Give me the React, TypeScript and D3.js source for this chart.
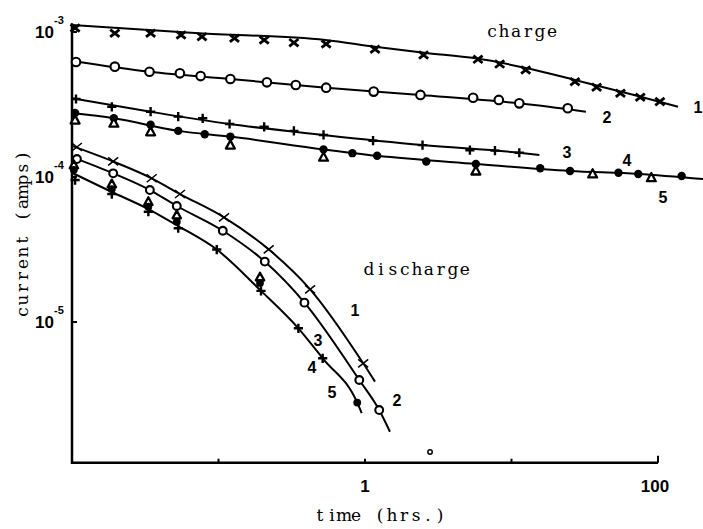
import React from 'react';
import * as d3 from 'd3';

const W = 703;
const H = 529;

// ---------- charge curves (time in hrs, current in amps) ----------
const chargeTime1 = [0.0105, 0.0196, 0.0344, 0.0555, 0.0771, 0.1285, 0.205, 0.327, 0.543, 1.17, 2.51, 5.9, 8.3, 12.5, 27.1, 38.1, 55.4, 75.6, 103];
const chargeCurrent1 = [1.066e-3, 0.98e-3, 0.98e-3, 0.953e-3, 0.928e-3, 0.905e-3, 0.881e-3, 0.844e-3, 0.826e-3, 0.76e-3, 0.694e-3, 0.648e-3, 0.601e-3, 0.547e-3, 0.454e-3, 0.416e-3, 0.378e-3, 0.355e-3, 0.331e-3];
const chargeFitTime1 = [0.01, 0.0734, 0.537, 1.17, 2.53, 5.72, 12.8, 27.1, 68.6, 137];
const chargeFitCurrent1 = [1.117e-3, 0.98e-3, 0.881e-3, 0.792e-3, 0.72e-3, 0.659e-3, 0.562e-3, 0.467e-3, 0.368e-3, 0.305e-3];

const chargeTime2 = [0.01065, 0.0196, 0.0338, 0.0545, 0.0755, 0.1205, 0.214, 0.337, 0.543, 1.146, 2.39, 5.47, 8.19, 11.3, 24.2];
const chargeCurrent2 = [0.621e-3, 0.577e-3, 0.532e-3, 0.519e-3, 0.497e-3, 0.474e-3, 0.45e-3, 0.431e-3, 0.413e-3, 0.388e-3, 0.368e-3, 0.352e-3, 0.34e-3, 0.322e-3, 0.298e-3];
const chargeFitTime2 = [0.01, 0.0338, 0.1205, 0.543, 2.39, 11.3, 32.2];
const chargeFitCurrent2 = [0.631e-3, 0.532e-3, 0.474e-3, 0.413e-3, 0.368e-3, 0.322e-3, 0.282e-3];

const chargeTime3 = [0.01065, 0.0187, 0.0344, 0.0531, 0.078, 0.119, 0.205, 0.327, 0.521, 1.135, 2.47, 5.2, 7.71, 11.3];
const chargeCurrent3 = [0.345e-3, 0.305e-3, 0.282e-3, 0.261e-3, 0.254e-3, 0.232e-3, 0.222e-3, 0.208e-3, 0.195e-3, 0.178e-3, 0.166e-3, 0.153e-3, 0.152e-3, 0.147e-3];
const chargeFitTime3 = [0.01, 0.0344, 0.119, 0.521, 2.47, 11.3, 15.5];
const chargeFitCurrent3 = [0.349e-3, 0.282e-3, 0.232e-3, 0.195e-3, 0.166e-3, 0.147e-3, 0.142e-3];

const chargeTime4 = [0.0105, 0.0193, 0.0344, 0.0531, 0.0805, 0.1205, 0.521, 0.82, 1.21, 2.62, 5.71, 15.7, 25.1, 53.7, 73.3, 145];
const chargeCurrent4 = [0.276e-3, 0.254e-3, 0.229e-3, 0.208e-3, 0.197e-3, 0.19e-3, 0.155e-3, 0.146e-3, 0.14e-3, 0.128e-3, 0.123e-3, 0.115e-3, 0.11e-3, 0.107e-3, 0.105e-3, 0.1016e-3];
const chargeTime5 = [0.0105, 0.0193, 0.0344, 0.1205, 0.521, 5.71, 35.8, 90];
const chargeCurrent5 = [0.247e-3, 0.235e-3, 0.205e-3, 0.166e-3, 0.137e-3, 0.11e-3, 0.105e-3, 0.0989e-3];
const chargeFitTime45 = [0.01, 0.0193, 0.0531, 0.1205, 0.521, 1.21, 5.71, 25.1, 73.3, 203];
const chargeFitCurrent45 = [0.276e-3, 0.254e-3, 0.208e-3, 0.19e-3, 0.155e-3, 0.14e-3, 0.123e-3, 0.11e-3, 0.105e-3, 0.0968e-3];

// ---------- discharge curves ----------
const dischargeTime1 = [0.0108, 0.0191, 0.035, 0.0546, 0.109, 0.22, 0.422, 0.972];
const dischargeCurrent1 = [1.61e-4, 1.28e-4, 9.8e-5, 7.63e-5, 5.27e-5, 3.17e-5, 1.68e-5, 5.19e-6];
const dischargeFitTime1 = [0.01, 0.0191, 0.035, 0.0546, 0.109, 0.22, 0.422, 0.972, 1.17];
const dischargeFitCurrent1 = [1.64e-4, 1.28e-4, 9.8e-5, 7.63e-5, 5.27e-5, 3.17e-5, 1.68e-5, 5.19e-6, 3.88e-6];

const dischargeTime2 = [0.0108, 0.0191, 0.034, 0.0519, 0.107, 0.207, 0.386, 0.914, 1.25];
const dischargeCurrent2 = [1.33e-4, 1.06e-4, 8.13e-5, 6.31e-5, 4.26e-5, 2.61e-5, 1.36e-5, 3.98e-6, 2.47e-6];
const dischargeFitTime2 = [0.01, 0.0191, 0.034, 0.0519, 0.107, 0.207, 0.386, 0.914, 1.25, 1.48];
const dischargeFitCurrent2 = [1.37e-4, 1.06e-4, 8.13e-5, 6.31e-5, 4.26e-5, 2.61e-5, 1.36e-5, 3.98e-6, 2.47e-6, 1.75e-6];

const dischargeTime3 = [0.0105, 0.0187, 0.0332, 0.0531, 0.0973, 0.195, 0.351, 0.514];
const dischargeCurrent3 = [9.53e-5, 7.63e-5, 5.76e-5, 4.43e-5, 3.16e-5, 1.64e-5, 9.05e-6, 5.62e-6];
const dischargeTime4 = [0.0103, 0.0187, 0.0332, 0.0519, 0.192, 0.885];
const dischargeCurrent4 = [1.12e-4, 8.26e-5, 6.24e-5, 4.92e-5, 1.86e-5, 2.78e-6];
const dischargeTime5 = [0.0103, 0.0187, 0.0332, 0.0519, 0.192];
const dischargeCurrent5 = [1.21e-4, 8.95e-5, 6.76e-5, 5.47e-5, 2.04e-5];
const dischargeFitTime345 = [0.01, 0.0187, 0.0332, 0.0531, 0.0973, 0.195, 0.351, 0.514, 0.885, 0.95];
const dischargeFitCurrent345 = [1.07e-4, 7.88e-5, 6.01e-5, 4.59e-5, 3.16e-5, 1.64e-5, 9.05e-6, 5.62e-6, 2.78e-6, 2.35e-6];

const strayTime = [2.78];
const strayCurrent = [1.27e-6];

// ---------- axes ----------
const xTickValues = [0.1, 1, 10, 100];
const xTickLabels = ['', '1', '', '100'];
const yTickValues = [1e-3, 1e-4, 1e-5];
const yTickExponents = ['-3', '-4', '-5'];
const xAxisExtent = [0.01, 100];
const yAxisExtent = [1.07e-6, 1.15e-3];

const chargeLabels = ['1', '2', '3', '4', '5'];
const chargeLabelTime = [197, 44.9, 23.9, 61.4, 108];
const chargeLabelCurrent = [3.04e-4, 2.59e-4, 1.49e-4, 1.31e-4, 7.28e-5];
const dischargeLabels = ['1', '2', '3', '4', '5'];
const dischargeLabelTime = [0.855, 1.65, 0.477, 0.435, 0.595];
const dischargeLabelCurrent = [1.21e-5, 2.9e-6, 7.51e-6, 4.9e-6, 3.29e-6];

const x = d3.scaleLog().domain([0.01, 100]).range([72, 658]);
const y = d3.scaleLog().domain([1e-3, 1e-5]).range([32, 322]);

const zip = (t: number[], c: number[]) => t.map((v, i) => [v, c[i]] as [number, number]);
const line = d3
  .line<[number, number]>()
  .x((d) => x(d[0]))
  .y((d) => y(d[1]))
  .curve(d3.curveMonotoneX);

const TYPE = "'DejaVu Serif', 'Liberation Serif', serif";
const NUM = "'Liberation Sans Narrow', 'Liberation Sans', Arial, sans-serif";

type Kind = 'x' | 'xthin' | 'o' | 'plus' | 'dot' | 'tri';

function Marker({ kind, cx, cy, s }: { kind: Kind; cx: number; cy: number; s: number }) {
  if (kind === 'x' || kind === 'xthin') {
    return (
      <path
        d={`M${cx - s},${cy - s * 0.8}L${cx + s},${cy + s * 0.8}M${cx - s},${cy + s * 0.8}L${cx + s},${cy - s * 0.8}`}
        stroke="#000"
        strokeWidth={kind === 'x' ? 2.8 : 1.5}
        fill="none"
      />
    );
  }
  if (kind === 'plus') {
    return (
      <path d={`M${cx - s},${cy}L${cx + s},${cy}M${cx},${cy - s}L${cx},${cy + s}`} stroke="#000" strokeWidth={2.4} fill="none" />
    );
  }
  if (kind === 'o') {
    return <circle cx={cx} cy={cy} r={s} fill="#fff" stroke="#000" strokeWidth={2.1} />;
  }
  if (kind === 'dot') {
    return <circle cx={cx} cy={cy} r={s} fill="#000" />;
  }
  return (
    <path
      d={`M${cx},${cy - s}L${cx + s * 0.95},${cy + s * 0.75}L${cx - s * 0.95},${cy + s * 0.75}Z`}
      fill="#fff"
      stroke="#000"
      strokeWidth={2.3}
      strokeLinejoin="round"
    />
  );
}

function Series({ t, c, kind, s }: { t: number[]; c: number[]; kind: Kind; s: number }) {
  return (
    <g>
      {zip(t, c).map((d, i) => (
        <Marker key={i} kind={kind} cx={x(d[0])} cy={y(d[1])} s={s} />
      ))}
    </g>
  );
}

// typewriter-style text: each character in a fixed 12px cell
function TypeText({ text, cx, cy, transform }: { text: string; cx: number; cy: number; transform?: string }) {
  const adv = 12;
  const start = cx - (text.length * adv) / 2;
  return (
    <g transform={transform}>
      {text.split('').map((ch, i) => (
        <text key={i} x={start + adv * (i + 0.5)} y={cy + 5} textAnchor="middle" fontFamily={TYPE} fontSize={17}>
          {ch}
        </text>
      ))}
    </g>
  );
}

export default function App() {
  const fits: [number[], number[]][] = [
    [chargeFitTime1, chargeFitCurrent1],
    [chargeFitTime2, chargeFitCurrent2],
    [chargeFitTime3, chargeFitCurrent3],
    [chargeFitTime45, chargeFitCurrent45],
    [dischargeFitTime1, dischargeFitCurrent1],
    [dischargeFitTime2, dischargeFitCurrent2],
    [dischargeFitTime345, dischargeFitCurrent345],
  ];
  const x0 = x(xAxisExtent[0]);
  const x1 = x(xAxisExtent[1]);
  const yB = y(yAxisExtent[0]);
  const yT = y(yAxisExtent[1]);
  return (
    <svg width={W} height={H} style={{ position: 'absolute', left: 0, top: 0, background: '#fff' }}>
      <rect x={0} y={0} width={W} height={H} fill="#fff" />
      {/* axes */}
      <path d={`M${x0},${yT}L${x0},${yB}L${x1},${yB}`} fill="none" stroke="#000" strokeWidth={2.5} />
      {xTickValues.map((v, i) => (
        <g key={i}>
          <line x1={x(v)} x2={x(v)} y1={yB} y2={yB - (i === xTickValues.length - 1 ? 7 : 4)} stroke="#000" strokeWidth={2} />
          {xTickLabels[i] && (
            <text x={x(v) - (i === xTickValues.length - 1 ? 3 : 0)} y={yB + 29} textAnchor="middle" fontFamily={NUM} fontWeight="bold" fontSize={17}>
              {xTickLabels[i]}
            </text>
          )}
        </g>
      ))}
      {yTickValues.map((v, i) => (
        <g key={i}>
          <line x1={x0} x2={x0 + 5} y1={y(v)} y2={y(v)} stroke="#000" strokeWidth={2} />
          <text x={54} y={y(v) + 6} textAnchor="end" fontFamily={NUM} fontWeight="bold" fontSize={17}>
            10
          </text>
          <text x={54} y={y(v) - 8} fontFamily={NUM} fontWeight="bold" fontSize={11}>
            {yTickExponents[i]}
          </text>
        </g>
      ))}
      <TypeText text="time (hrs.)" cx={380} cy={516} />
      <TypeText text="current (amps)" cx={0} cy={-4} transform="translate(27,234) rotate(-90)" />
      <TypeText text="charge" cx={x(11.8)} cy={y(1e-3)} />
      <TypeText text="discharge" cx={x(2.26)} cy={y(2.28e-5)} />

      {/* fitted curves */}
      {fits.map(([t, c], i) => (
        <path key={i} d={line(zip(t, c)) || ''} fill="none" stroke="#000" strokeWidth={2} />
      ))}

      {/* charge markers */}
      <Series t={chargeTime1} c={chargeCurrent1} kind="x" s={4.6} />
      <Series t={chargeTime2} c={chargeCurrent2} kind="o" s={4.3} />
      <Series t={chargeTime3} c={chargeCurrent3} kind="plus" s={4.6} />
      <Series t={chargeTime4} c={chargeCurrent4} kind="dot" s={4.2} />
      <Series t={chargeTime5} c={chargeCurrent5} kind="tri" s={4.7} />

      {/* discharge markers */}
      <Series t={dischargeTime1} c={dischargeCurrent1} kind="xthin" s={5} />
      <Series t={dischargeTime2} c={dischargeCurrent2} kind="o" s={3.9} />
      <Series t={dischargeTime5} c={dischargeCurrent5} kind="tri" s={4.4} />
      <Series t={dischargeTime4} c={dischargeCurrent4} kind="dot" s={3.9} />
      <Series t={dischargeTime3} c={dischargeCurrent3} kind="plus" s={4.6} />

      {zip(strayTime, strayCurrent).map((d, i) => (
        <circle key={i} cx={x(d[0])} cy={y(d[1])} r={2.2} fill="#fff" stroke="#000" strokeWidth={1.5} />
      ))}

      {/* curve labels */}
      {chargeLabels.map((l, i) => {
        const lx = Math.min(x(chargeLabelTime[i]), W - 5);
        return (
          <text key={'c' + i} x={lx} y={y(chargeLabelCurrent[i]) + 6} textAnchor="middle" fontFamily={NUM} fontWeight="bold" fontSize={16}>
            {l}
          </text>
        );
      })}
      {dischargeLabels.map((l, i) => (
        <text key={'d' + i} x={x(dischargeLabelTime[i])} y={y(dischargeLabelCurrent[i]) + 6} textAnchor="middle" fontFamily={NUM} fontWeight="bold" fontSize={16}>
          {l}
        </text>
      ))}
    </svg>
  );
}
